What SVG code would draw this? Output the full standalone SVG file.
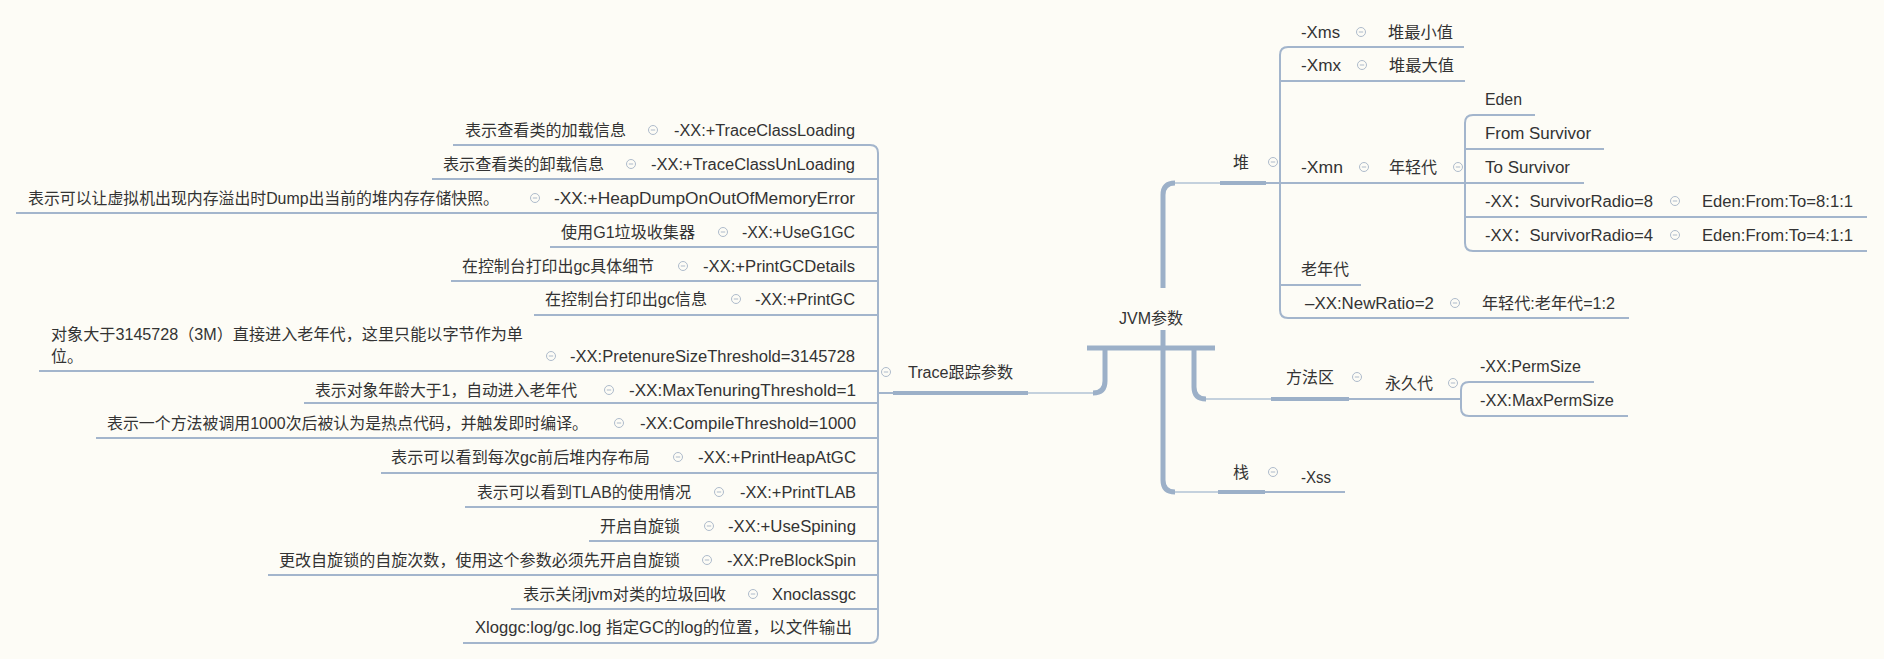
<svg xmlns="http://www.w3.org/2000/svg" xmlns:xlink="http://www.w3.org/1999/xlink" width="1884" height="659" viewBox="0 0 1884 659">
<style>
.t{font-family:"Liberation Sans","Noto Sans CJK SC",sans-serif;font-size:16px;fill:#333333}
.ln{fill:none;stroke:#A3B5CC;stroke-width:2;stroke-linecap:butt}
.lt{fill:none;stroke:#C4D1DD;stroke-width:2}
.tk{fill:none;stroke:#9CB0C8;stroke-width:5}
.bar{fill:none;stroke:#9CB0C8;stroke-width:4}
</style>
<defs>
<g id="col"><circle r="4.5" fill="none" stroke="#AEBBCB" stroke-width="1"/><line x1="-2.2" y1="0" x2="2.2" y2="0" stroke="#AEBBCB" stroke-width="1"/></g>
</defs>
<rect width="1884" height="659" fill="#FDFCF6"/>

<g id="connectors">
<!-- left list -->
<path class="ln" d="M 870 145 Q 878 145 878 153 V 635 Q 878 643 870 643"/>
<path class="ln" d="M 453 145 H 870"/>
<path class="ln" d="M 432 179 H 878"/>
<path class="ln" d="M 16 213 H 878"/>
<path class="ln" d="M 550 247 H 878"/>
<path class="ln" d="M 451 281 H 878"/>
<path class="ln" d="M 534 315 H 878"/>
<path class="ln" d="M 39 371 H 878"/>
<path class="ln" d="M 304 403 H 878"/>
<path class="ln" d="M 96 438 H 878"/>
<path class="ln" d="M 381 473 H 878"/>
<path class="ln" d="M 465 507 H 878"/>
<path class="ln" d="M 589 541 H 878"/>
<path class="ln" d="M 268 575 H 878"/>
<path class="ln" d="M 511 609 H 878"/>
<path class="ln" d="M 463 643 H 870"/>
<path class="ln" d="M 878 393 H 893"/>
<!-- center to Trace -->
<path class="lt" d="M 1028 393 H 1095"/>
<path class="tk" d="M 1093 393 Q 1105 393 1105 381 V 348"/>
<!-- center to heap -->
<path class="tk" d="M 1163 288 V 195 Q 1163 183 1175 183"/>
<path class="lt" d="M 1175 183 H 1220"/>
<path class="ln" d="M 1266 183 H 1280"/>
<path class="ln" d="M 1288 47 Q 1280 47 1280 55 V 310 Q 1280 318 1288 318"/>
<path class="ln" d="M 1288 47 H 1464"/>
<path class="ln" d="M 1280 81 H 1465"/>
<path class="ln" d="M 1280 183 H 1465"/>
<path class="ln" d="M 1280 285 H 1361"/>
<path class="ln" d="M 1288 318 H 1629"/>
<path class="ln" d="M 1473 115 Q 1465 115 1465 123 V 243 Q 1465 251 1473 251"/>
<path class="ln" d="M 1473 115 H 1535"/>
<path class="ln" d="M 1465 149 H 1604"/>
<path class="ln" d="M 1465 183 H 1584"/>
<path class="ln" d="M 1465 217 H 1867"/>
<path class="ln" d="M 1473 251 H 1867"/>
<!-- center to method area -->
<path class="tk" d="M 1194 348 V 387 Q 1194 399 1206 399"/>
<path class="lt" d="M 1206 399 H 1271"/>
<path class="ln" d="M 1349 399 H 1461"/>
<path class="ln" d="M 1469 382 Q 1461 382 1461 390 V 408 Q 1461 416 1469 416"/>
<path class="ln" d="M 1469 382 H 1594"/>
<path class="ln" d="M 1469 416 H 1628"/>
<!-- center to stack -->
<path class="tk" d="M 1163 330 V 480 Q 1163 492 1175 492"/>
<path class="lt" d="M 1175 492 H 1218"/>
<path class="ln" d="M 1265 492 H 1345"/>
</g>

<g id="node-jvm">
<path class="tk" d="M 1087 348 H 1215"/>
<text class="t" x="1119" y="324" textLength="64" lengthAdjust="spacingAndGlyphs">JVM参数</text>
</g>

<g id="node-trace">
<path class="bar" stroke-width="3" d="M 893 393 H 1028"/>
<use xlink:href="#col" x="886" y="372"/>
<text class="t" x="908" y="378" textLength="105" lengthAdjust="spacingAndGlyphs">Trace跟踪参数</text>
</g>

<g id="trace-1"><text class="t" x="465" y="136" textLength="161" lengthAdjust="spacingAndGlyphs">表示查看类的加载信息</text><use xlink:href="#col" x="653" y="130"/><text class="t" x="674" y="136" textLength="181" lengthAdjust="spacingAndGlyphs">-XX:+TraceClassLoading</text></g>
<g id="trace-2"><text class="t" x="443" y="170" textLength="161" lengthAdjust="spacingAndGlyphs">表示查看类的卸载信息</text><use xlink:href="#col" x="631" y="164"/><text class="t" x="651" y="170" textLength="204" lengthAdjust="spacingAndGlyphs">-XX:+TraceClassUnLoading</text></g>
<g id="trace-3"><text class="t" x="28" y="204" textLength="471" lengthAdjust="spacingAndGlyphs">表示可以让虚拟机出现内存溢出时Dump出当前的堆内存存储快照。</text><use xlink:href="#col" x="535" y="198"/><text class="t" x="554" y="204" textLength="301" lengthAdjust="spacingAndGlyphs">-XX:+HeapDumpOnOutOfMemoryError</text></g>
<g id="trace-4"><text class="t" x="561" y="238" textLength="134" lengthAdjust="spacingAndGlyphs">使用G1垃圾收集器</text><use xlink:href="#col" x="723" y="232"/><text class="t" x="742" y="238" textLength="113" lengthAdjust="spacingAndGlyphs">-XX:+UseG1GC</text></g>
<g id="trace-5"><text class="t" x="462" y="272" textLength="192" lengthAdjust="spacingAndGlyphs">在控制台打印出gc具体细节</text><use xlink:href="#col" x="683" y="266"/><text class="t" x="703" y="272" textLength="152" lengthAdjust="spacingAndGlyphs">-XX:+PrintGCDetails</text></g>
<g id="trace-6"><text class="t" x="545" y="305" textLength="162" lengthAdjust="spacingAndGlyphs">在控制台打印出gc信息</text><use xlink:href="#col" x="736" y="299"/><text class="t" x="755" y="305" textLength="100" lengthAdjust="spacingAndGlyphs">-XX:+PrintGC</text></g>
<g id="trace-7"><text class="t" x="51" y="340" textLength="472" lengthAdjust="spacingAndGlyphs">对象大于3145728（3M）直接进入老年代，这里只能以字节作为单</text><text class="t" x="51" y="362">位。</text><use xlink:href="#col" x="551" y="356"/><text class="t" x="570" y="362" textLength="285" lengthAdjust="spacingAndGlyphs">-XX:PretenureSizeThreshold=3145728</text></g>
<g id="trace-8"><text class="t" x="315" y="396" textLength="262" lengthAdjust="spacingAndGlyphs">表示对象年龄大于1，自动进入老年代</text><use xlink:href="#col" x="609" y="390"/><text class="t" x="629" y="396" textLength="227" lengthAdjust="spacingAndGlyphs">-XX:MaxTenuringThreshold=1</text></g>
<g id="trace-9"><text class="t" x="107" y="429" textLength="481" lengthAdjust="spacingAndGlyphs">表示一个方法被调用1000次后被认为是热点代码，并触发即时编译。</text><use xlink:href="#col" x="619" y="423"/><text class="t" x="640" y="429" textLength="216" lengthAdjust="spacingAndGlyphs">-XX:CompileThreshold=1000</text></g>
<g id="trace-10"><text class="t" x="391" y="463" textLength="259" lengthAdjust="spacingAndGlyphs">表示可以看到每次gc前后堆内存布局</text><use xlink:href="#col" x="678" y="457"/><text class="t" x="698" y="463" textLength="158" lengthAdjust="spacingAndGlyphs">-XX:+PrintHeapAtGC</text></g>
<g id="trace-11"><text class="t" x="477" y="498" textLength="214" lengthAdjust="spacingAndGlyphs">表示可以看到TLAB的使用情况</text><use xlink:href="#col" x="719" y="492"/><text class="t" x="740" y="498" textLength="116" lengthAdjust="spacingAndGlyphs">-XX:+PrintTLAB</text></g>
<g id="trace-12"><text class="t" x="600" y="532" textLength="80" lengthAdjust="spacingAndGlyphs">开启自旋锁</text><use xlink:href="#col" x="709" y="526"/><text class="t" x="728" y="532" textLength="128" lengthAdjust="spacingAndGlyphs">-XX:+UseSpining</text></g>
<g id="trace-13"><text class="t" x="279" y="566" textLength="401" lengthAdjust="spacingAndGlyphs">更改自旋锁的自旋次数，使用这个参数必须先开启自旋锁</text><use xlink:href="#col" x="707" y="560"/><text class="t" x="727" y="566" textLength="129" lengthAdjust="spacingAndGlyphs">-XX:PreBlockSpin</text></g>
<g id="trace-14"><text class="t" x="523" y="600" textLength="203" lengthAdjust="spacingAndGlyphs">表示关闭jvm对类的垃圾回收</text><use xlink:href="#col" x="753" y="594"/><text class="t" x="772" y="600" textLength="84" lengthAdjust="spacingAndGlyphs">Xnoclassgc</text></g>
<g id="trace-15"><text class="t" x="475" y="633" textLength="377" lengthAdjust="spacingAndGlyphs">Xloggc:log/gc.log 指定GC的log的位置，以文件输出</text></g>

<g id="node-heap">
<path class="bar" d="M 1220 183 H 1266"/>
<text class="t" x="1233" y="168">堆</text>
<use xlink:href="#col" x="1273" y="162"/>
</g>
<g id="heap-xms"><text class="t" x="1301" y="38" textLength="39" lengthAdjust="spacingAndGlyphs">-Xms</text><use xlink:href="#col" x="1361" y="32"/><text class="t" x="1388" y="38" textLength="65" lengthAdjust="spacingAndGlyphs">堆最小值</text></g>
<g id="heap-xmx"><text class="t" x="1301" y="71" textLength="40" lengthAdjust="spacingAndGlyphs">-Xmx</text><use xlink:href="#col" x="1362" y="65"/><text class="t" x="1389" y="71" textLength="65" lengthAdjust="spacingAndGlyphs">堆最大值</text></g>
<g id="heap-xmn"><text class="t" x="1301" y="173" textLength="42" lengthAdjust="spacingAndGlyphs">-Xmn</text><use xlink:href="#col" x="1364" y="167"/><text class="t" x="1389" y="173" textLength="48" lengthAdjust="spacingAndGlyphs">年轻代</text><use xlink:href="#col" x="1458" y="167"/></g>
<g id="young-eden"><text class="t" x="1485" y="105" textLength="37" lengthAdjust="spacingAndGlyphs">Eden</text></g>
<g id="young-from"><text class="t" x="1485" y="139" textLength="106" lengthAdjust="spacingAndGlyphs">From Survivor</text></g>
<g id="young-to"><text class="t" x="1485" y="173" textLength="85" lengthAdjust="spacingAndGlyphs">To Survivor</text></g>
<g id="young-sr8"><text class="t" x="1485" y="207" textLength="168" lengthAdjust="spacingAndGlyphs">-XX：SurvivorRadio=8</text><use xlink:href="#col" x="1675" y="201"/><text class="t" x="1702" y="207" textLength="151" lengthAdjust="spacingAndGlyphs">Eden:From:To=8:1:1</text></g>
<g id="young-sr4"><text class="t" x="1485" y="241" textLength="168" lengthAdjust="spacingAndGlyphs">-XX：SurvivorRadio=4</text><use xlink:href="#col" x="1675" y="235"/><text class="t" x="1702" y="241" textLength="151" lengthAdjust="spacingAndGlyphs">Eden:From:To=4:1:1</text></g>
<g id="heap-old"><text class="t" x="1301" y="275" textLength="48" lengthAdjust="spacingAndGlyphs">老年代</text></g>
<g id="heap-newratio"><text class="t" x="1305" y="309" textLength="129" lengthAdjust="spacingAndGlyphs">–XX:NewRatio=2</text><use xlink:href="#col" x="1455" y="303"/><text class="t" x="1482" y="309" textLength="133" lengthAdjust="spacingAndGlyphs">年轻代:老年代=1:2</text></g>

<g id="node-method">
<path class="bar" d="M 1271 399 H 1349"/>
<text class="t" x="1286" y="383" textLength="48" lengthAdjust="spacingAndGlyphs">方法区</text>
<use xlink:href="#col" x="1357" y="377"/>
</g>
<g id="method-perm"><text class="t" x="1385" y="389" textLength="48" lengthAdjust="spacingAndGlyphs">永久代</text><use xlink:href="#col" x="1453" y="383"/></g>
<g id="perm-size"><text class="t" x="1480" y="372" textLength="101" lengthAdjust="spacingAndGlyphs">-XX:PermSize</text></g>
<g id="perm-max"><text class="t" x="1480" y="406" textLength="134" lengthAdjust="spacingAndGlyphs">-XX:MaxPermSize</text></g>

<g id="node-stack">
<path class="bar" d="M 1218 492 H 1265"/>
<text class="t" x="1233" y="478">栈</text>
<use xlink:href="#col" x="1273" y="472"/>
</g>
<g id="stack-xss"><text class="t" x="1301" y="483" textLength="30" lengthAdjust="spacingAndGlyphs">-Xss</text></g>
</svg>
